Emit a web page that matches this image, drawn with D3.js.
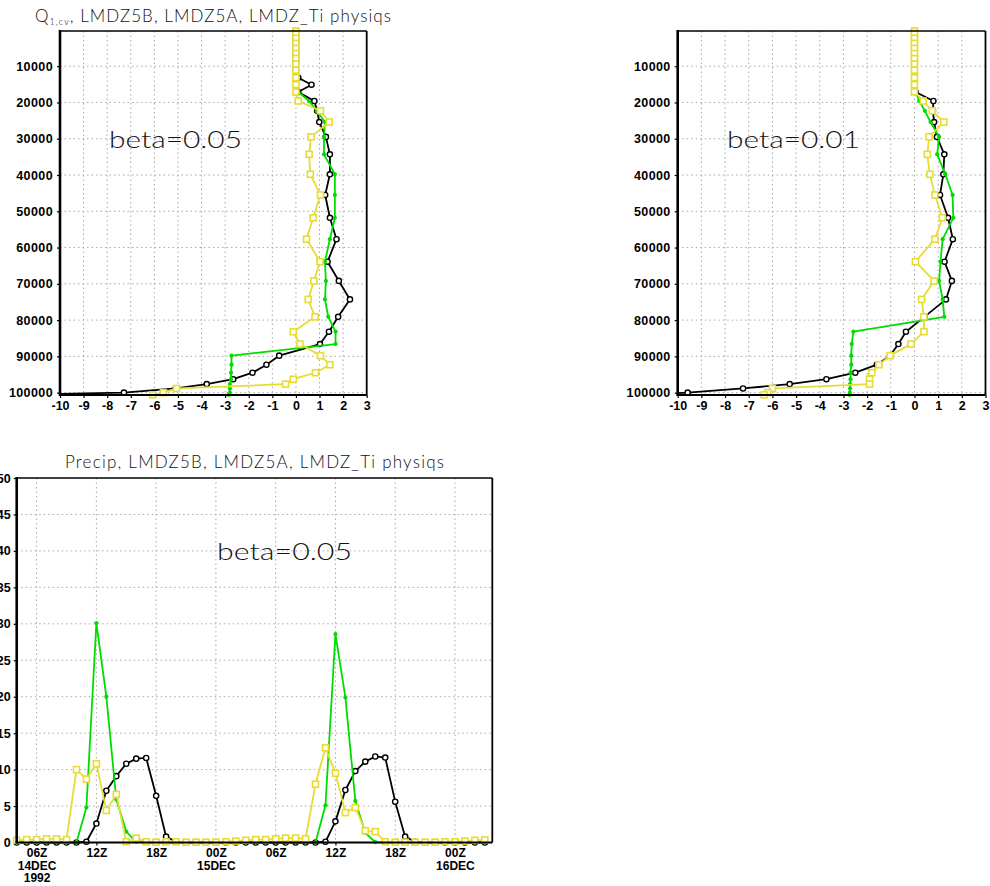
<!DOCTYPE html>
<html><head><meta charset="utf-8">
<script src="https://cdn.jsdelivr.net/npm/d3@7"></script>
<style>body{margin:0;background:#fff} svg{display:block}</style>
</head><body>
<svg id="c" width="990" height="886"></svg>
<script>
// ---------- DATA ----------
const levels = [300,1000,2300,3700,5100,6500,7900,9400,11100,13200,15100,17100,19600,22300,25400,29500,34300,39800,45500,51800,57700,63900,69200,74300,79100,83200,86600,89800,92300,94500,96300,97650,98850,100000,100600];
const pressureTicks = [10000,20000,30000,40000,50000,60000,70000,80000,90000,100000];
const q1Ticks = [-10,-9,-8,-7,-6,-5,-4,-3,-2,-1,0,1,2,3];

// beta = 0.05
const q1Beta05_LMDZ5B = [0,0,0,0,0,0,0,0,0,0.1,0.66,0.1,0.78,0.9,0.99,1.27,1.44,1.44,1.24,1.44,1.72,1.34,1.82,2.29,1.79,1.40,1.02,-0.71,-1.25,-1.84,-2.66,-3.78,-5.1,-7.29,-12];
const q1Beta05_LMDZ5A = [0,0,0,0,0,0,0,0,0,0,0,0.1,0.56,0.88,1.23,1.19,1.19,1.65,1.65,1.65,1.44,1.23,1.27,1.23,1.37,1.68,1.68,-2.73,-2.73,-2.75,-2.75,-2.8,-2.8,-2.8,-2.85];
const q1Beta05_LMDZTi = [0,0,0,0,0,0,0,0,0,0,0,0,0.1,1.04,1.41,0.64,0.56,0.61,1.04,0.73,0.45,1.02,0.76,0.52,0.81,-0.11,0.17,1.04,1.44,0.83,-0.11,-0.44,-5.06,-5.62,-6.07];
// beta = 0.01
const q1Beta01_LMDZ5B = [0,0,0,0,0,0,0,0,0,0,0,0.05,0.8,0.78,0.83,0.95,1.26,1.22,1.08,1.42,1.62,1.27,1.58,1.33,0.42,-0.36,-0.68,-1.03,-1.59,-2.5,-3.72,-5.27,-7.24,-9.58,-11.5];
const q1Beta01_LMDZ5A = [0,0,0,0,0,0,0,0,0,0,0,0.05,0.2,0.44,0.68,1.04,0.96,1.3,1.61,1.64,1.19,1.1,1.04,1.19,1.26,-2.58,-2.65,-2.67,-2.67,-2.7,-2.7,-2.72,-2.72,-2.73,-2.74];
const q1Beta01_LMDZTi = [0,0,0,0,0,0,0,0,0,0,0,0,0.37,0.75,1.24,0.62,0.54,0.65,0.86,1.18,0.86,0.04,0.83,0.3,0.4,0.4,-0.15,-1.03,-1.5,-1.8,-1.9,-1.9,-6.0,-6.2,-6.35];

// Precip time series: hours since 00Z 14DEC1992
const hours = [4,5,6,7,8,9,10,11,12,13,14,15,16,17,18,19,20,21,22,23,24,25,26,27,28,29,30,31,32,33,34,35,36,37,38,39,40,41,42,43,44,45,46,47,48,49,50,51];
const precipLMDZ5B = [0,0,0,0,0,0,0,0.1,2.6,7.1,9.1,10.8,11.5,11.6,6.4,0.8,0.1,0,0,0,0,0,0,0,0,0,0,0,0,0,0,0.1,2.9,7.2,9.8,11.1,11.8,11.65,5.6,0.8,0.1,0,0,0,0,0,0,0];
const precipLMDZ5A = [0,0,0,0,0,0,0,4.8,30.1,20.0,5.9,1.5,0.1,0,0,0,0,0,0,0,0,0,0,0,0,0,0,0,0,0,0,5.1,28.6,19.9,5.7,1.3,0.05,0,0,0,0,0,0,0,0,0,0,0];
const precipLMDZTi = [0.3,0.4,0.4,0.5,0.5,0.4,10.0,8.7,10.8,4.4,6.6,0.1,0.6,0.1,0.05,0.1,0.1,0.05,0.05,0.05,0.05,0.1,0.2,0.3,0.4,0.4,0.5,0.6,0.6,0.5,8.0,13.0,9.5,4.1,4.8,1.6,1.5,0.1,0.05,0.05,0.05,0.05,0.05,0.1,0.1,0.2,0.3,0.35];
const precipTicks = [0,5,10,15,20,25,30,35,40,45,50];
const timeTicks = [6,12,18,24,30,36,42,48];
const timeLabels = ["06Z","12Z","18Z","00Z","06Z","12Z","18Z","00Z"];
const dateLabels = {6:["14DEC","1992"],24:["15DEC"],48:["16DEC"]};

// ---------- STYLE ----------
const COL = {b:'#000000', g:'#00dc00', y:'#e6dc32'};
const svg = d3.select('#c');
const tickFont = "'Liberation Sans', Arial, sans-serif";
const thinFont = "Lato, 'Open Sans', sans-serif";

function drawSeries(g, pts, kind) {
  const line = d3.line().x(d=>d[0]).y(d=>d[1]);
  g.append('path').attr('d', line(pts)).attr('fill','none')
    .attr('stroke', COL[kind]).attr('stroke-width', 1.8).attr('stroke-linejoin','round');
  if (kind === 'b') {
    g.selectAll(null).data(pts).enter().append('circle')
      .attr('cx',d=>d[0]).attr('cy',d=>d[1]).attr('r',2.6)
      .attr('fill','#fff').attr('stroke',COL.b).attr('stroke-width',1.4);
  } else if (kind === 'g') {
    g.selectAll(null).data(pts).enter().append('circle')
      .attr('cx',d=>d[0]).attr('cy',d=>d[1]).attr('r',2.1)
      .attr('fill',COL.g);
  } else {
    g.selectAll(null).data(pts).enter().append('rect')
      .attr('x',d=>d[0]-3).attr('y',d=>d[1]-3).attr('width',6).attr('height',6)
      .attr('fill','#fff').attr('stroke',COL.y).attr('stroke-width',1.6);
  }
}

function gridAndFrame(g, x0, x1, y0, y1, vx, hy) {
  const grid = g.append('g');
  vx.forEach(v => grid.append('line').attr('x1',v).attr('x2',v).attr('y1',y0).attr('y2',y1)
    .attr('stroke','#a8a8a8').attr('stroke-width',1).attr('stroke-dasharray','1.5,3'));
  hy.forEach(v => grid.append('line').attr('x1',x0).attr('x2',x1).attr('y1',v).attr('y2',v)
    .attr('stroke','#a8a8a8').attr('stroke-width',1).attr('stroke-dasharray','1.5,3'));
}
function frame(g, x0, x1, y0, y1) {
  g.append('line').attr('x1',x0).attr('x2',x1).attr('y1',y0).attr('y2',y0).attr('stroke','#000').attr('stroke-width',1.6);
  g.append('line').attr('x1',x1).attr('x2',x1).attr('y1',y0).attr('y2',y1).attr('stroke','#000').attr('stroke-width',1.8);
  g.append('line').attr('x1',x0).attr('x2',x0).attr('y1',y0-1).attr('y2',y1+1).attr('stroke','#000').attr('stroke-width',2.6);
  g.append('line').attr('x1',x0-1).attr('x2',x1).attr('y1',y1).attr('y2',y1).attr('stroke','#000').attr('stroke-width',2.2);
}
function styleTicks(a, size) {
  a.select('.domain').remove();
  a.selectAll('text').attr('font-family',tickFont).attr('font-weight','bold')
    .attr('font-size',size).attr('fill','#000');
  a.selectAll('line').attr('stroke','#000').attr('stroke-width',1.2);
}

function profilePanel(id, xr, series, betaText, betaX) {
  const x = d3.scaleLinear().domain([-10,3]).range(xr);
  const y = d3.scaleLinear().domain([300,100650]).range([31,395]);
  const g = svg.append('g');
  gridAndFrame(g, xr[0], xr[1], 31, 395,
    q1Ticks.filter(t=>t>-10 && t<3).map(x), pressureTicks.map(y));
  const ax = g.append('g').attr('transform',`translate(0,395)`)
    .call(d3.axisBottom(x).tickValues(q1Ticks).tickSize(3).tickPadding(2).tickFormat(d=>String(d)));
  const ay = g.append('g').attr('transform',`translate(${xr[0]},0)`)
    .call(d3.axisLeft(y).tickValues(pressureTicks).tickSize(3).tickPadding(4).tickFormat(d=>String(d)));
  styleTicks(ax,'12.5px'); styleTicks(ay,'12.5px');
  ay.selectAll('text').attr('letter-spacing','0.4px');
  ax.selectAll('text').attr('dy','0.8em');
  svg.append('clipPath').attr('id',id).append('rect')
    .attr('x',xr[0]).attr('y',0).attr('width',xr[1]-xr[0]).attr('height',420);
  const dg = g.append('g').attr('clip-path',`url(#${id})`);
  series.forEach(s => {
    const pts = s.vals.map((v,i)=>[x(v), y(levels[i])]);
    drawSeries(dg.append('g'), pts, s.kind);
  });
  frame(g, xr[0], xr[1], 31, 395);
  g.append('text').attr('x',betaX).attr('y',148).text(betaText)
    .attr('font-family',thinFont).attr('font-weight',300).attr('font-size','23px')
    .attr('textLength',133).attr('lengthAdjust','spacingAndGlyphs').attr('fill','#111');
}

// Title top-left
const t1 = svg.append('text').attr('x',35).attr('y',22)
  .attr('font-family',thinFont).attr('font-weight',300).attr('font-size','17px').attr('fill','#111')
  .attr('textLength',356).attr('lengthAdjust','spacing');
t1.append('tspan').text('Q');
t1.append('tspan').attr('font-size','9px').attr('dy',3).text('1,cv');
t1.append('tspan').attr('dy',-3).text(', LMDZ5B, LMDZ5A, LMDZ_Ti physiqs');

profilePanel('clipL',[60,366.7],[
  {vals:q1Beta05_LMDZ5B, kind:'b'},
  {vals:q1Beta05_LMDZ5A, kind:'g'},
  {vals:q1Beta05_LMDZTi, kind:'y'}], 'beta=0.05', 109);
profilePanel('clipR',[677.7,985.5],[
  {vals:q1Beta01_LMDZ5B, kind:'b'},
  {vals:q1Beta01_LMDZ5A, kind:'g'},
  {vals:q1Beta01_LMDZTi, kind:'y'}], 'beta=0.01', 727);

// ---------- Precip panel ----------
(function(){
  const x0=16.7, x1=492.3, y0=478, y1=842.5;
  const x = d3.scaleLinear().domain([4,51.75]).range([x0,x1]);
  const y = d3.scaleLinear().domain([0,50]).range([y1,y0]);
  const g = svg.append('g');
  gridAndFrame(g, x0, x1, y0, y1, timeTicks.map(x), precipTicks.filter(t=>t>0&&t<50).map(y));
  const ay = g.append('g').attr('transform',`translate(${x0},0)`)
    .call(d3.axisLeft(y).tickValues(precipTicks).tickSize(3).tickPadding(3));
  styleTicks(ay,'12.5px');
  const ax = g.append('g').attr('transform',`translate(0,${y1})`)
    .call(d3.axisBottom(x).tickValues(timeTicks).tickSize(3).tickPadding(2).tickFormat((d,i)=>timeLabels[i]));
  styleTicks(ax,'12px');
  ax.selectAll('text').attr('dy','0.8em');
  ax.selectAll('.tick').each(function(d){
    const extra = dateLabels[d];
    if (!extra) return;
    extra.forEach((s,k)=>{
      d3.select(this).append('text').attr('y',27.5+k*12).attr('text-anchor','middle')
        .attr('font-family',tickFont).attr('font-weight','bold').attr('font-size','12px').attr('fill','#000').text(s);
    });
  });
  const dg = g.append('g');
  drawSeries(dg.append('g'), hours.map((h,i)=>[x(h), y(precipLMDZ5B[i])]), 'b');
  drawSeries(dg.append('g'), hours.map((h,i)=>[x(h), y(precipLMDZ5A[i])]), 'g');
  drawSeries(dg.append('g'), hours.map((h,i)=>[x(h), y(precipLMDZTi[i])]), 'y');
  frame(g, x0, x1, y0, y1);
  svg.append('text').attr('x',65).attr('y',468).text('Precip, LMDZ5B, LMDZ5A, LMDZ_Ti physiqs')
    .attr('font-family',thinFont).attr('font-weight',300).attr('font-size','17px').attr('fill','#111')
    .attr('textLength',379).attr('lengthAdjust','spacing');
  svg.append('text').attr('x',217).attr('y',560).text('beta=0.05')
    .attr('font-family',thinFont).attr('font-weight',300).attr('font-size','23px')
    .attr('textLength',135).attr('lengthAdjust','spacingAndGlyphs').attr('fill','#111');
})();
</script>
</body></html>
